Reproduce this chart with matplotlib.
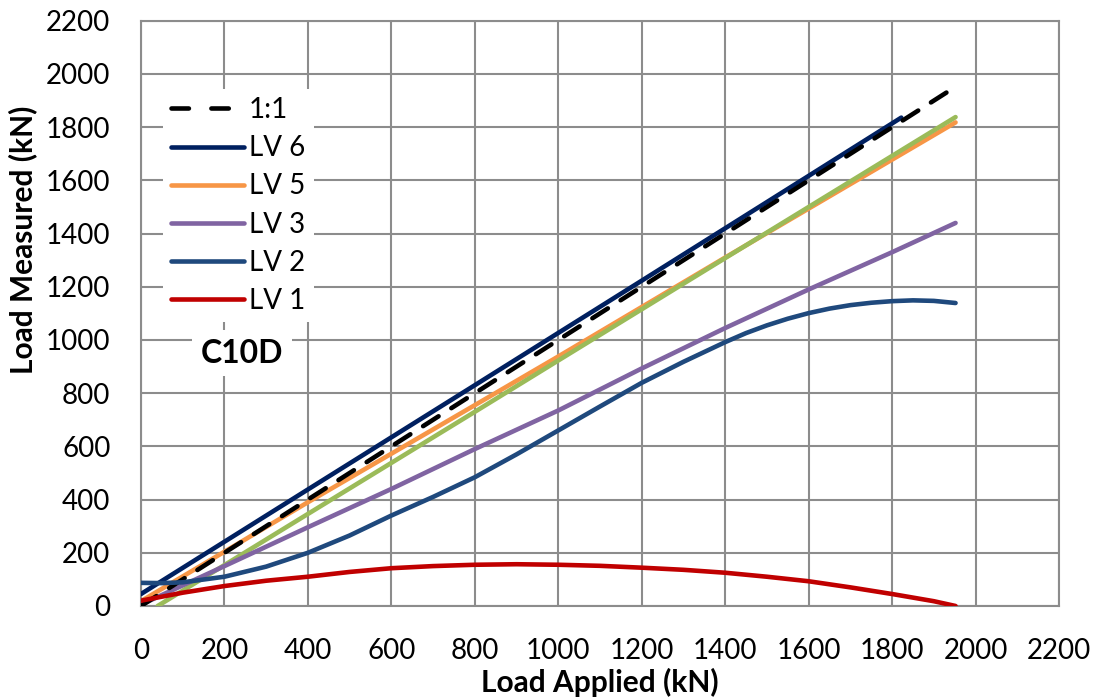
import numpy as np
import matplotlib
matplotlib.use("Agg")
import matplotlib.pyplot as plt
from matplotlib.lines import Line2D

plt.rcParams['font.family'] = ['Lato', 'DejaVu Sans']

# data (kN)
one_x = [0, 1952]
one_y = [0, 1952]

lv6_x = [0, 400, 800, 1200, 1600, 1822]
lv6_y = [45, 438, 830, 1223, 1617, 1836]

lv5_x = [0, 400, 800, 1000, 1400, 1952]
lv5_y = [18, 390, 755, 938, 1310, 1818]

lv4_x = [40, 400, 800, 1000, 1400, 1952]
lv4_y = [0, 346, 730, 923, 1308, 1838]

lv3_x = [0, 200, 400, 600, 800, 1000, 1200, 1400, 1600, 1800, 1952]
lv3_y = [5, 150, 296, 440, 590, 735, 893, 1045, 1190, 1330, 1440]

lv2_x = [0, 50, 100, 200, 300, 400, 500, 600, 700, 800, 900, 1000, 1100,
         1200, 1300, 1400, 1450, 1500, 1550, 1600, 1650, 1700, 1750, 1800,
         1850, 1900, 1952]
lv2_y = [87, 86, 89, 110, 148, 200, 265, 340, 410, 484, 570, 660, 750,
         839, 918, 992, 1026, 1055, 1080, 1101, 1118, 1131, 1140, 1146,
         1149, 1147, 1139]

lv1_x = [0, 100, 200, 300, 400, 500, 600, 700, 800, 900, 1000, 1100, 1200,
         1300, 1400, 1500, 1600, 1700, 1800, 1900, 1952]
lv1_y = [20, 50, 75, 95, 110, 128, 142, 150, 155, 157, 155, 151, 144,
         136, 125, 110, 93, 70, 45, 18, 0]

ticks = np.arange(0, 2201, 200)

fig = plt.figure(figsize=(10.97, 7.0), dpi=100)
ax = fig.add_axes([0.1285, 0.1343, 0.8369, 0.836])

lw = 3.3
ax.plot(lv5_x, lv5_y, color='#F79646', lw=lw, solid_capstyle='round', zorder=2, label='LV 5')
ax.plot(lv4_x, lv4_y, color='#9BBB59', lw=lw, solid_capstyle='round', zorder=3, label='_nolegend_')
ax.plot(lv3_x, lv3_y, color='#8064A2', lw=lw, solid_capstyle='round', zorder=4, label='LV 3')
ax.plot(lv6_x, lv6_y, color='#002060', lw=lw, solid_capstyle='round', zorder=5, label='LV 6')
ax.plot(one_x, one_y, color='black', lw=lw, linestyle=(0, (4, 3.3)),
        dash_capstyle='round', zorder=6, label='1:1')
ax.plot(lv2_x, lv2_y, color='#1F497D', lw=lw, solid_capstyle='round',
        solid_joinstyle='round', zorder=7, label='LV 2')
ax.plot(lv1_x, lv1_y, color='#C00000', lw=lw, solid_capstyle='round',
        solid_joinstyle='round', zorder=8, label='LV 1')

ax.set_xlim(0, 2200)
ax.set_ylim(0, 2200)
ax.set_xticks(ticks)
ax.set_yticks(ticks)
ax.grid(True, color='#8c8c8c', lw=1.5)
ax.set_axisbelow(True)
for s in ax.spines.values():
    s.set_color('#8c8c8c')
    s.set_linewidth(1.5)
ax.tick_params(length=0, labelsize=20)
ax.tick_params(axis='x', pad=23)
ax.tick_params(axis='y', pad=22)

ax.set_xlabel('Load Applied (kN)', fontsize=21.5, fontweight='bold', labelpad=3)
ax.set_ylabel('Load Measured (kN)', fontsize=21.5, fontweight='bold')
ax.yaxis.set_label_coords(-0.113, 0.626)

handles, labels = ax.get_legend_handles_labels()
hmap = dict(zip(labels, handles))
# legend sample of the 1:1 line shows two longer dashes
hmap['1:1'] = Line2D([], [], color='black', lw=lw, linestyle=(0, (3.8, 4.9)),
                     dash_capstyle='round')
order = ['1:1', 'LV 6', 'LV 5', 'LV 3', 'LV 2', 'LV 1']
leg = ax.legend([hmap[k] for k in order], order, loc='upper left',
                bbox_to_anchor=(0.024, 0.884), borderaxespad=0, fontsize=20,
                frameon=True, fancybox=False, edgecolor='none', framealpha=1,
                handlelength=2.6, handletextpad=0.2, labelspacing=0.44,
                borderpad=0.3)
leg.set_zorder(10)

ax.text(242, 951, 'C10D', fontsize=23, fontweight='bold', ha='center', va='center',
        zorder=10, bbox=dict(facecolor='white', edgecolor='none', pad=6))

fig.savefig('out.png', dpi=100)
